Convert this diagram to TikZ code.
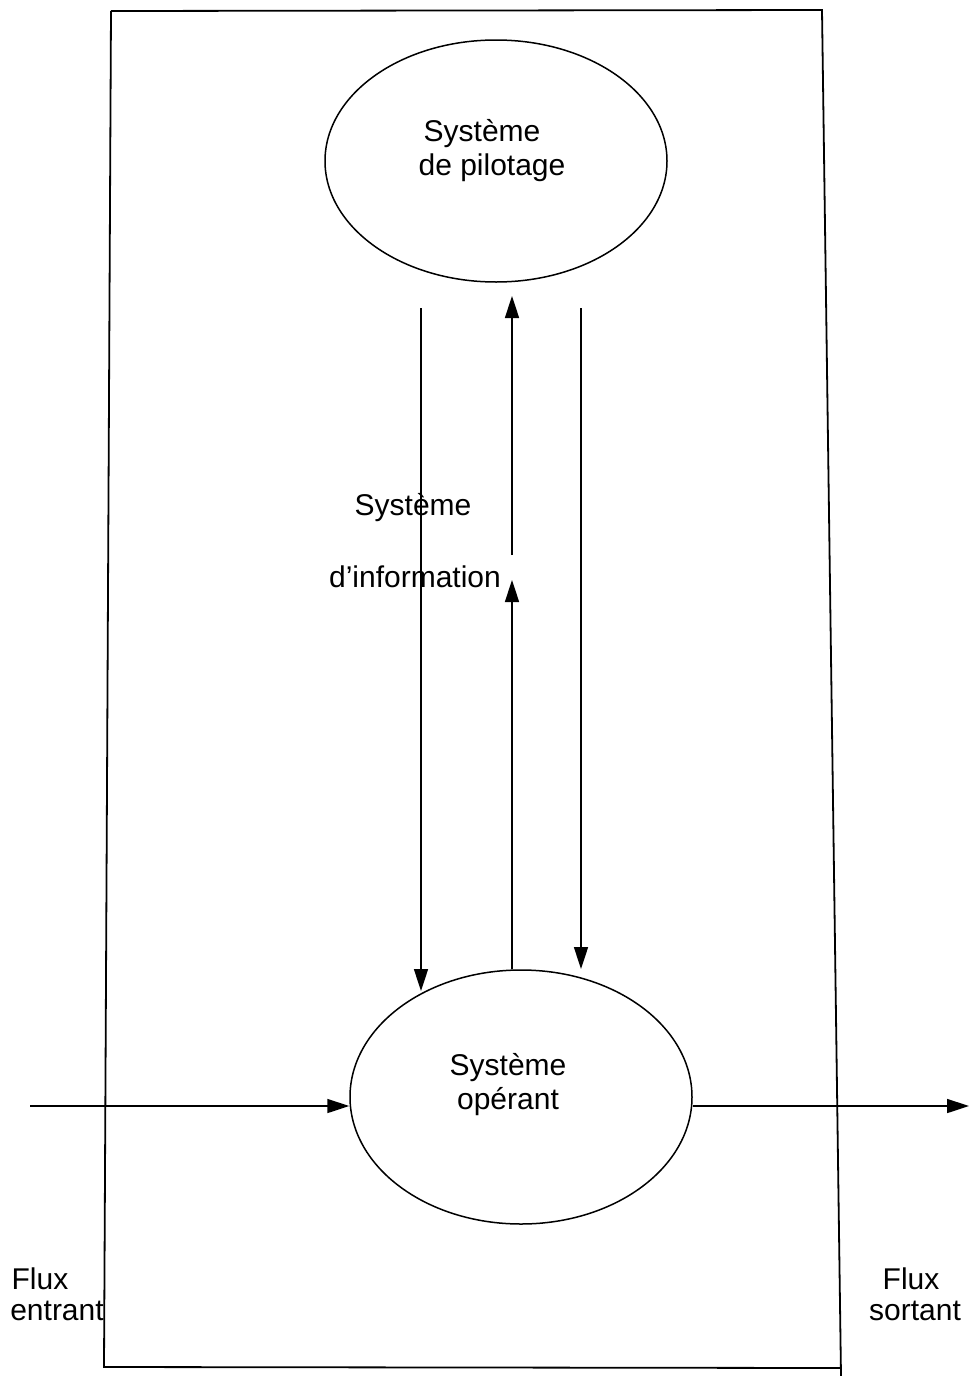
\documentclass[tikz,border=0pt]{standalone}
\usepackage{fontspec}
\setmainfont{Liberation Sans}
\usetikzlibrary{arrows.meta,shapes.geometric}
\begin{document}
\begin{tikzpicture}[x=1pt,y=-1pt,
  lbl/.style={inner sep=0pt,font=\fontsize{30}{35}\selectfont},
  ell/.style={draw,line width=1.5pt,ellipse,inner sep=0pt},
  con/.style={line width=1.6pt,-{Triangle[width=14pt,length=22pt]}}]
\useasboundingbox (0,0) rectangle (969,1376);
% frame
\draw[line width=1.8pt] (111,11) -- (822,10) -- (841,1376) (841,1368) -- (104,1367) -- (111,11);
% ellipses
\node[ell,minimum width=342pt,minimum height=242pt] (pil) at (496,161) {};
\node[ell,minimum width=342pt,minimum height=254pt] (ope) at (521,1097) {};
% labels
\node[lbl] (t1) at (482,134) {Système};
\node[lbl] (t2) at (492,168) {de pilotage};
\node[lbl] (b1) at (508,1068) {Système};
\node[lbl] (b2) at (508,1102) {opérant};
\node[lbl] (s1) at (413,508) {Système};
\node[lbl] (s2) at (415,577) {d’information};
\node[lbl] (fe1) at (40,1279) {Flux};
\node[lbl] (fe2) at (57,1311) {entrant};
\node[lbl] (fs1) at (911,1279) {Flux};
\node[lbl] (fs2) at (915,1311) {sortant};
% connectors
\coordinate (a1) at (421,308);
\coordinate (a2) at (421,991);
\coordinate (m1) at (512,969);
\coordinate (m2) at (512,580);
\coordinate (m3) at (512,555);
\coordinate (m4) at (512,296);
\coordinate (r1) at (581,308);
\coordinate (r2) at (581,969);
\coordinate (h1) at (30,1106);
\coordinate (h4) at (969,1106);
\draw[con] (a1) -- (a2);
\draw[con] (m1) -- (m2);
\draw[con] (m3) -- (m4);
\draw[con] (r1) -- (r2);
\draw[con] (h1) -- (h1 -| ope.west);
\draw[con] (h4 -| ope.east) -- (h4);
\end{tikzpicture}
\end{document}
